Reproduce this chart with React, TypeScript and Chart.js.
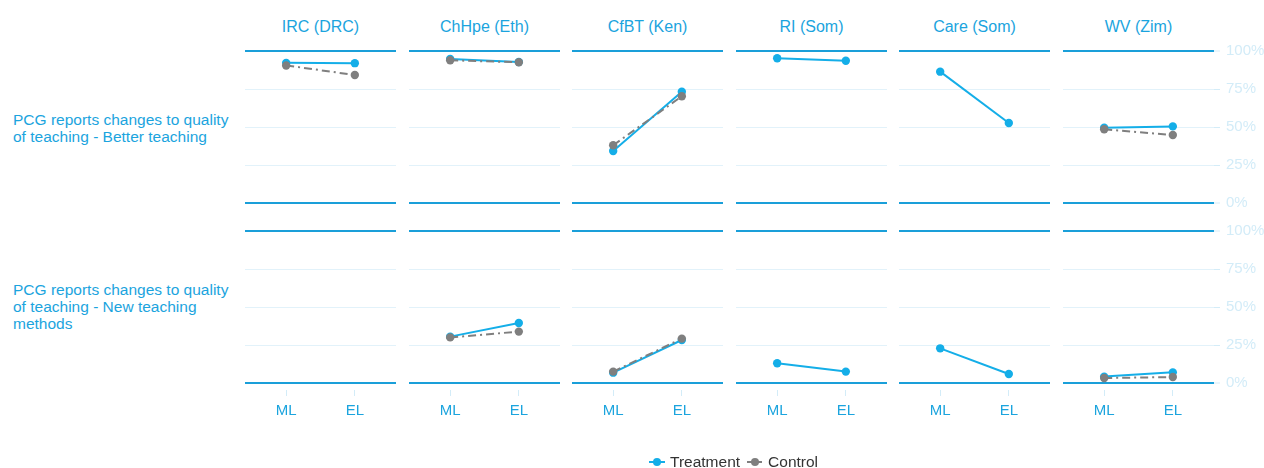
import React, { useEffect, useRef } from "react";
import { Chart, registerables } from "chart.js";

Chart.register(...registerables);

// ---------- data ----------
const COLUMNS = ["IRC (DRC)", "ChHpe (Eth)", "CfBT (Ken)", "RI (Som)", "Care (Som)", "WV (Zim)"];
const ROW_LABELS = [
  ["PCG reports changes to quality", "of teaching - Better teaching"],
  ["PCG reports changes to quality", "of teaching - New teaching", "methods"],
];
const WAVES = ["ML", "EL"];
const Y_TICKS = [0, 25, 50, 75, 100];
const SERIES_NAMES = ["Treatment", "Control"];

// values in %, [ML, EL] per column (null = no data)
const BETTER_TREATMENT: (number[] | null)[] = [
  [92.2, 92.0], [94.7, 92.8], [34.2, 73.2], [95.2, 93.6], [86.4, 52.6], [49.5, 50.4],
];
const BETTER_CONTROL: (number[] | null)[] = [
  [90.5, 84.2], [93.9, 92.6], [38.0, 70.2], null, null, [48.5, 44.7],
];
const NEW_TREATMENT: (number[] | null)[] = [
  null, [30.5, 39.5], [6.8, 28.3], [13.0, 7.5], [22.8, 5.9], [4.2, 7.0],
];
const NEW_CONTROL: (number[] | null)[] = [
  null, [30.0, 33.8], [7.5, 29.2], null, null, [3.3, 3.9],
];

const TREATMENT_ROWS = [BETTER_TREATMENT, NEW_TREATMENT];
const CONTROL_ROWS = [BETTER_CONTROL, NEW_CONTROL];

// ---------- styles ----------
const FONT = "'Liberation Sans', Arial, Helvetica, sans-serif";
const BLUE = "#14aee8";
const GREY = "#7f7f7f";
const AXIS_BLUE = "#1a9fd9";
const GRID_LIGHT = "#e2f2fa";
const TICK_LIGHT = "#d3ecf8";
const TEXT_BLUE = "#1ba4de";
const CONTROL_DASH = [8, 4, 2, 4];

const PANEL_LEFTS = [245, 409, 572, 736, 899, 1063];
const PANEL_W = 151;
const PANEL_H = 152;
const ROW_TOPS = [51, 231];
const PAD = 20;
const Y_AXIS_W = 52;
const X_AXIS_H = 36;

function Panel({ row, col }: { row: number; col: number }) {
  const ref = useRef<HTMLCanvasElement | null>(null);
  const isLastCol = col === COLUMNS.length - 1;
  const isBottom = row === ROW_TOPS.length - 1;
  const width = PAD + PANEL_W + (isLastCol ? Y_AXIS_W : 0) + PAD;
  const height = PAD + PANEL_H + (isBottom ? X_AXIS_H : 0) + PAD;
  const left = PANEL_LEFTS[col] - PAD;
  const top = ROW_TOPS[row] - PAD;

  useEffect(() => {
    if (!ref.current) return;
    const datasets: any[] = [];
    const t = TREATMENT_ROWS[row][col];
    const c = CONTROL_ROWS[row][col];
    if (t) {
      datasets.push({
        label: SERIES_NAMES[0],
        data: t.map((v, i) => ({ x: i, y: v })),
        borderColor: BLUE,
        backgroundColor: BLUE,
        pointBackgroundColor: BLUE,
        pointBorderWidth: 0,
        pointRadius: 4.2,
        borderWidth: 2,
        clip: false,
        order: 1,
      });
    }
    if (c) {
      datasets.push({
        label: SERIES_NAMES[1],
        data: c.map((v, i) => ({ x: i, y: v })),
        borderColor: GREY,
        backgroundColor: GREY,
        pointBackgroundColor: GREY,
        pointBorderWidth: 0,
        pointRadius: 4.2,
        borderWidth: 2,
        borderDash: CONTROL_DASH,
        clip: false,
        order: 0,
      });
    }
    const chart = new Chart(ref.current, {
      type: "line",
      data: { datasets },
      options: {
        animation: false,
        responsive: false,
        events: [],
        layout: { padding: PAD },
        plugins: { legend: { display: false }, tooltip: { enabled: false }, title: { display: false } },
        scales: {
          x: {
            type: "linear",
            min: -0.6,
            max: 1.6,
            display: isBottom,
            afterBuildTicks: (s: any) => {
              s.ticks = WAVES.map((_, i) => ({ value: i }));
            },
            afterFit: (s: any) => {
              s.height = isBottom ? X_AXIS_H : 0;
            },
            border: { display: false },
            grid: {
              display: true,
              drawOnChartArea: false,
              drawTicks: true,
              tickLength: 13,
              tickColor: TICK_LIGHT,
              tickWidth: 1,
              tickBorderDash: [6, 100],
              tickBorderDashOffset: 99,
            },
            ticks: {
              color: TEXT_BLUE,
              font: { family: FONT, size: 15 },
              padding: 6,
              maxRotation: 0,
              autoSkip: false,
              callback: (v: any) => WAVES[Math.round(Number(v))],
            },
          },
          y: {
            type: "linear",
            position: "right",
            min: 0,
            max: 100,
            afterBuildTicks: (s: any) => {
              s.ticks = Y_TICKS.map((v) => ({ value: v }));
            },
            afterFit: (s: any) => {
              s.width = isLastCol ? Y_AXIS_W : 0;
            },
            border: { display: false },
            grid: {
              drawTicks: isLastCol,
              tickLength: 6,
              tickColor: TICK_LIGHT,
              tickWidth: 1,
              color: (ctx: any) =>
                ctx.tick && (ctx.tick.value === 0 || ctx.tick.value === 100) ? AXIS_BLUE : GRID_LIGHT,
              lineWidth: (ctx: any) =>
                ctx.tick && (ctx.tick.value === 0 || ctx.tick.value === 100) ? 2 : 1,
            },
            ticks: {
              display: isLastCol,
              color: TICK_LIGHT,
              font: { family: FONT, size: 15 },
              padding: 6,
              callback: (v: any) => `${v}%`,
            },
          },
        },
      } as any,
    });
    return () => chart.destroy();
  }, [row, col]);

  return (
    <canvas
      ref={ref}
      width={width}
      height={height}
      style={{ position: "absolute", left, top, width, height }}
    />
  );
}

function LegendIcon({ color, dashed }: { color: string; dashed: boolean }) {
  return (
    <svg width={18} height={12} style={{ display: "block" }}>
      <line
        x1={1}
        y1={6}
        x2={17}
        y2={6}
        stroke={color}
        strokeWidth={2}
        strokeDasharray={dashed ? "5 2 1 2" : undefined}
      />
      <circle cx={9} cy={6} r={4} fill={color} />
    </svg>
  );
}

export default function App() {
  const panels: React.ReactNode[] = [];
  for (let r = 0; r < ROW_TOPS.length; r++) {
    for (let c = 0; c < COLUMNS.length; c++) {
      panels.push(<Panel key={`${r}-${c}`} row={r} col={c} />);
    }
  }
  return (
    <div
      style={{
        position: "absolute",
        left: 0,
        top: 0,
        width: 1264,
        height: 468,
        background: "#ffffff",
        fontFamily: FONT,
        overflow: "hidden",
      }}
    >
      {COLUMNS.map((name, c) => (
        <div
          key={name}
          style={{
            position: "absolute",
            left: PANEL_LEFTS[c],
            width: PANEL_W,
            top: 17,
            height: 20,
            lineHeight: "20px",
            textAlign: "center",
            fontSize: 16,
            color: TEXT_BLUE,
            whiteSpace: "nowrap",
          }}
        >
          {name}
        </div>
      ))}
      {ROW_LABELS.map((lines, r) => (
        <div
          key={r}
          style={{
            position: "absolute",
            left: 13,
            top: r === 0 ? 111 : 281,
            fontSize: 15.5,
            lineHeight: "17px",
            color: TEXT_BLUE,
            whiteSpace: "nowrap",
          }}
        >
          {lines.map((l, i) => (
            <div key={i}>{l}</div>
          ))}
        </div>
      ))}
      {panels}
      <div
        style={{
          position: "absolute",
          left: 648,
          top: 452,
          height: 20,
          display: "flex",
          alignItems: "center",
          fontSize: 15.5,
          color: "#333333",
          whiteSpace: "nowrap",
        }}
      >
        <LegendIcon color={BLUE} dashed={false} />
        <span style={{ marginLeft: 4, marginRight: 6 }}>{SERIES_NAMES[0]}</span>
        <LegendIcon color={GREY} dashed={true} />
        <span style={{ marginLeft: 4 }}>{SERIES_NAMES[1]}</span>
      </div>
    </div>
  );
}
